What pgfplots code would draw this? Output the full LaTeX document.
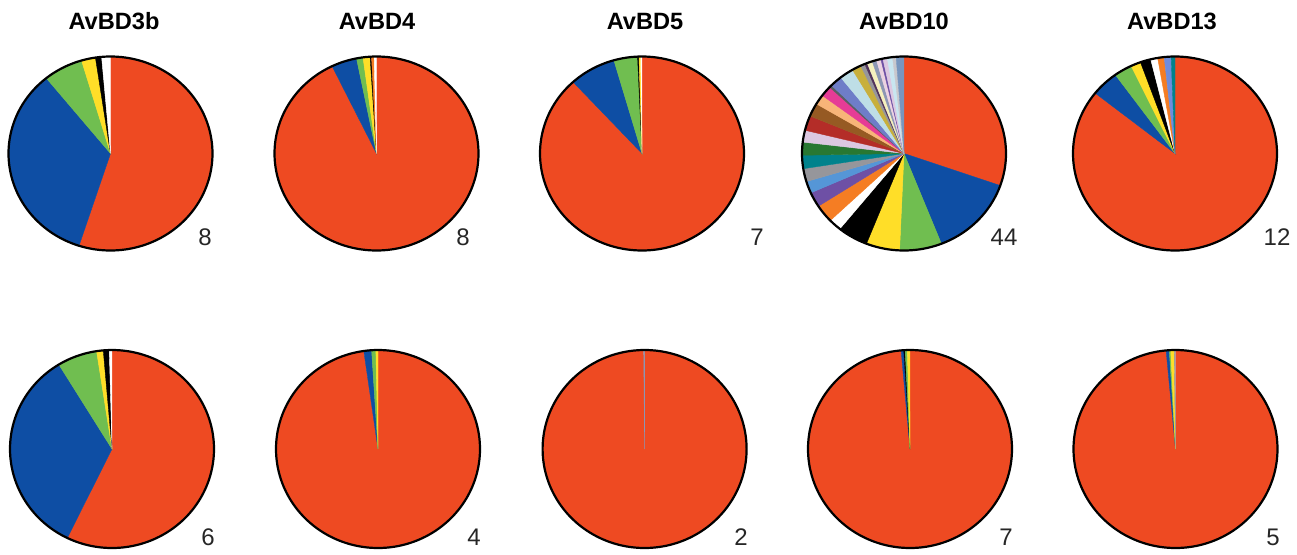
\documentclass[border=0pt]{standalone}
\usepackage{pgfplots}
\pgfplotsset{compat=1.18}
\usepackage{fontspec}
\setmainfont{Liberation Sans}

\definecolor{pRed}{RGB}{238,74,34}
\definecolor{pBlue}{RGB}{14,78,164}
\definecolor{pGreen}{RGB}{112,190,80}
\definecolor{pYellow}{RGB}{255,222,40}
\definecolor{pOrange}{RGB}{245,125,35}
\definecolor{pPurple}{RGB}{110,80,165}
\definecolor{pMedBlue}{RGB}{85,150,215}
\definecolor{pGray}{RGB}{150,150,155}
\definecolor{pTeal}{RGB}{0,130,140}
\definecolor{pDkGreen}{RGB}{40,120,50}
\definecolor{pLavender}{RGB}{220,200,225}
\definecolor{pDkRed}{RGB}{180,45,40}
\definecolor{pBrown}{RGB}{150,90,35}
\definecolor{pPeach}{RGB}{248,180,120}
\definecolor{pMagenta}{RGB}{230,60,150}
\definecolor{pDkGray}{RGB}{90,95,100}
\definecolor{pSlate}{RGB}{110,125,200}
\definecolor{pPaleCyan}{RGB}{190,222,230}
\definecolor{pOlive}{RGB}{200,175,60}
\definecolor{pDkPurple}{RGB}{80,50,90}
\definecolor{pPaleYellow}{RGB}{245,240,190}
\definecolor{pGrayBlue}{RGB}{140,150,180}
\definecolor{pPalePink}{RGB}{235,210,225}
\definecolor{pLtCyan}{RGB}{200,230,240}
\definecolor{pLtGray}{RGB}{200,200,205}
\definecolor{pSteel}{RGB}{120,150,190}
\definecolor{pCorn}{RGB}{110,140,220}

% slices: value (degrees of 360) / colour, clockwise from 12 o'clock
\newcommand\drawpie[1]{%
  \gdef\pietotal{0}%
  \foreach \v/\c in {#1}{\pgfmathsetmacro\tmp{\pietotal+\v}\xdef\pietotal{\tmp}}%
  \gdef\piestart{0}%
  \foreach \v/\c in {#1}{%
    \pgfmathsetmacro\pieend{\piestart+\v/\pietotal*360}%
    \pgfmathtruncatemacro\ns{max(3,ceil((\pieend-\piestart)/2)+2)}%
    \edef\doplot{\noexpand\addplot[fill=\c,draw=\c,line width=0.2pt,domain=\piestart:\pieend,samples=\ns] ({sin(x)},{cos(x)}) -- (axis cs:0,0) -- cycle;}%
    \doplot
    \xdef\piestart{\pieend}%
  }%
  \addplot[black,line width=1.1pt,domain=0:360,samples=181] ({sin(x)},{cos(x)}) -- cycle;
}

\pgfplotsset{pie/.style={hide axis, scale only axis, width=102pt, xmin=-1,xmax=1,ymin=-1,ymax=1, clip=false, anchor=center}}

\begin{document}
\begin{tikzpicture}
\useasboundingbox (0,0) rectangle (648.5pt,277pt);

% ---- top row ----
\begin{axis}[pie, height=97pt, at={(55.25pt,200.25pt)}]
\drawpie{198/pRed,123/pBlue,22.5/pGreen,8/pYellow,3.5/black,5/white}
\end{axis}
\begin{axis}[pie, height=97pt, at={(188.25pt,200.25pt)}]
\drawpie{334.2/pRed,14.5/pBlue,3.7/pGreen,4/pYellow,0.8/black,1.5/pOrange,1.3/white}
\end{axis}
\begin{axis}[pie, height=97pt, at={(321pt,200.25pt)}]
\drawpie{317.5/pRed,26.5/pBlue,13.5/pGreen,0.8/black,1.0/pYellow,0.7/white}
\end{axis}
\begin{axis}[pie, height=97pt, at={(452pt,200.25pt)}]
\drawpie{109.3/pRed,49.2/pBlue,24/pGreen,19.1/pYellow,17.4/black,7.3/white,10.8/pOrange,9/pPurple,7.1/pMedBlue,7.8/pGray,8/pTeal,7.8/pDkGreen,7.1/pLavender,8.9/pDkRed,8/pBrown,6/pPeach,6.4/pMagenta,1.5/pDkGray,7/pSlate,8/pPaleCyan,5.2/pOlive,2.5/pGray,1.5/pDkPurple,3/pPaleYellow,2.5/pGrayBlue,2.5/pPalePink,1.2/pPurple,2.5/pLavender,3/pLtCyan,2/pLtGray,4.4/pSteel}
\end{axis}
\begin{axis}[pie, height=97pt, at={(587.5pt,200.25pt)}]
\drawpie{308.5/pRed,15.7/pBlue,10.3/pGreen,5.7/pYellow,6/black,4/white,3.7/pOrange,3.9/pCorn,2.2/pTeal}
\end{axis}

% ---- bottom row ----
\begin{axis}[pie, height=99pt, at={(56pt,52.5pt)}]
\drawpie{206/pRed,122.6/pBlue,22.7/pGreen,3.8/pYellow,3.4/black,1.5/white}
\end{axis}
\begin{axis}[pie, height=99pt, at={(189pt,52.5pt)}]
\drawpie{352/pRed,4.4/pBlue,2.4/pGreen,1.2/pYellow}
\end{axis}
\begin{axis}[pie, height=99pt, at={(322.3pt,52.5pt)}]
\drawpie{359.5/pRed,0.5/pGrayBlue}
\end{axis}
\begin{axis}[pie, height=99pt, at={(455pt,52.5pt)}]
\drawpie{355/pRed,1.5/pBlue,0.8/black,1.2/pGreen,1.5/pYellow}
\end{axis}
\begin{axis}[pie, height=99pt, at={(587.75pt,52.5pt)}]
\drawpie{354.7/pRed,1.8/pBlue,0.8/pGreen,2/pYellow,0.7/pGray}
\end{axis}

% titles
\foreach \x/\t in {57/AvBD3b,188.5/AvBD4,322.5/AvBD5,452/AvBD10,586/AvBD13}
  \node[font=\bfseries\fontsize{11.8}{14}\selectfont] at (\x pt,266.25pt) {\t};
% counts
\foreach \x/\y/\t in {102.5/158.25/8,231.5/158.25/8,378.5/158.25/7,502/158.25/44,638.5/158.25/12,
                      104/8.5/6,237/8.5/4,370.5/8.5/2,503/8.5/7,636.5/8.5/5}
  \node[font=\fontsize{12}{14}\selectfont,text=black!85] at (\x pt,\y pt) {\t};
\end{tikzpicture}
\end{document}
